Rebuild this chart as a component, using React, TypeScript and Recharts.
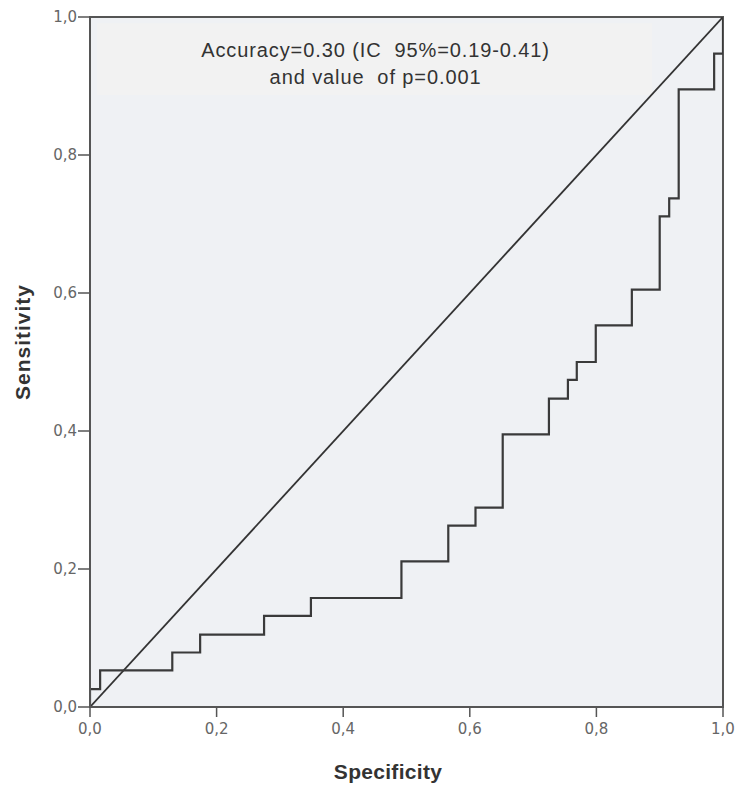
import React from 'react';
import { LineChart, Line, XAxis, YAxis, ReferenceArea } from 'recharts';

// ROC curve corner points (1 - specificity on x, sensitivity on y)
const rocX = [0, 0, 0.016, 0.13, 0.174, 0.275, 0.349, 0.492, 0.566, 0.609, 0.652, 0.725, 0.755, 0.769, 0.799, 0.856, 0.9, 0.915, 0.93, 0.986, 1.0];
const rocY = [0, 0.026, 0.053, 0.079, 0.105, 0.132, 0.158, 0.211, 0.263, 0.289, 0.395, 0.447, 0.474, 0.5, 0.553, 0.605, 0.711, 0.737, 0.895, 0.947, 1.0];
const diagX = [0, 1];
const diagY = [0, 1];
const tickValues = [0, 0.2, 0.4, 0.6, 0.8, 1.0];
const annotLines = ['Accuracy=0.30 (IC  95%=0.19-0.41)', 'and value  of p=0.001'];
const xTitle = 'Specificity';
const yTitle = 'Sensitivity';

const rocData = rocX.map((x, i) => ({ x, y: rocY[i] }));
const diagData = diagX.map((x, i) => ({ x, y: diagY[i] }));

const fmt = (v: number) => v.toFixed(1).replace('.', ',');

const AnnotLabel = (props: any) => {
  const vb = props.viewBox || {};
  const cx = vb.x + vb.width / 2 + 1;
  const style: any = { whiteSpace: 'pre' };
  return (
    <g>
      <text x={cx} y={vb.y + 34} textAnchor="middle" fontFamily="Liberation Sans, Arial, sans-serif" fontSize={20} letterSpacing={0.9} fill="#333" style={style}>{annotLines[0]}</text>
      <text x={cx} y={vb.y + 61} textAnchor="middle" fontFamily="Liberation Sans, Arial, sans-serif" fontSize={20} letterSpacing={0.9} fill="#333" style={style}>{annotLines[1]}</text>
    </g>
  );
};

const XTitle = () => (
  <text x={388} y={779} textAnchor="middle" fontFamily="Liberation Sans, Arial, sans-serif" fontWeight="bold" fontSize={21} letterSpacing={0.3} fill="#333">{xTitle}</text>
);

const YTitle = () => (
  <text x={30} y={342} transform="rotate(-90, 30, 342)" textAnchor="middle" fontFamily="Liberation Sans, Arial, sans-serif" fontWeight="bold" fontSize={21} letterSpacing={1.0} fill="#333">{yTitle}</text>
);

const tickStyle = { fill: '#666', fontSize: 15, fontFamily: 'DejaVu Sans, sans-serif' };

export default function App() {
  return (
    <div style={{ position: 'absolute', left: 0, top: 0, width: 737, height: 789, background: '#fff' }}>
      <LineChart width={737} height={789} margin={{ top: 17, right: 14, left: 0, bottom: 0 }}>
        <XAxis
          type="number"
          dataKey="x"
          domain={[0, 1]}
          ticks={tickValues}
          tickFormatter={fmt}
          height={82}
          axisLine={{ stroke: '#555', strokeWidth: 2 }}
          tickLine={{ stroke: '#555', strokeWidth: 1.5 }}
          tickSize={10}
          tickMargin={6}
          tick={tickStyle}
          label={<XTitle />}
          allowDataOverflow
        />
        <YAxis
          type="number"
          dataKey="y"
          domain={[0, 1]}
          ticks={tickValues}
          tickFormatter={fmt}
          width={90}
          axisLine={{ stroke: '#555', strokeWidth: 2 }}
          tickLine={{ stroke: '#555', strokeWidth: 1.5 }}
          tickSize={12}
          tickMargin={1}
          tick={tickStyle}
          label={<YTitle />}
          allowDataOverflow
        />
        <ReferenceArea x1={0} x2={1} y1={0} y2={1} fill="#eff1f4" fillOpacity={1} stroke="#555" strokeWidth={2} />
        <ReferenceArea x1={0.011} x2={0.888} y1={0.887} y2={0.991} fill="#f2f2f2" fillOpacity={1} stroke="none" label={<AnnotLabel />} />
        <Line data={diagData} dataKey="y" type="linear" stroke="#333" strokeWidth={1.8} dot={false} isAnimationActive={false} />
        <Line data={rocData} dataKey="y" type="stepAfter" stroke="#3a3a3a" strokeWidth={2.2} dot={false} isAnimationActive={false} />
      </LineChart>
    </div>
  );
}
